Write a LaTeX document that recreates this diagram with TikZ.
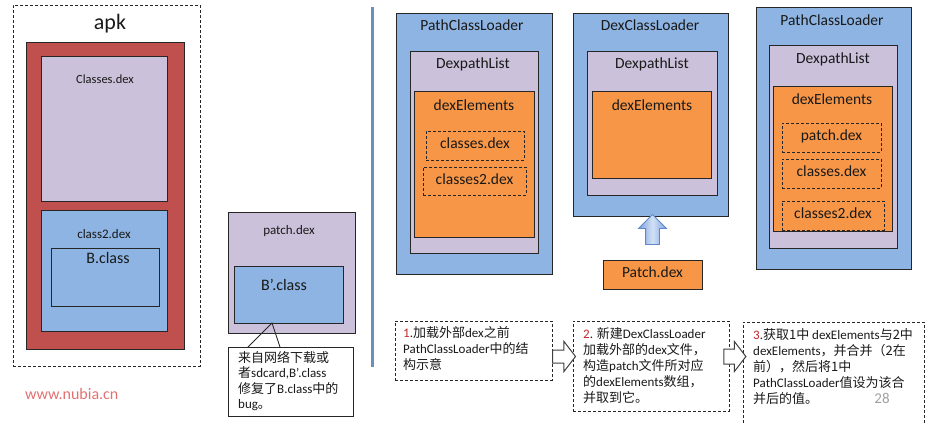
\documentclass[tikz,border=0pt]{standalone}
\usepackage{fontspec}
\setmainfont{Carlito}
\newfontfamily\cjk{Noto Sans CJK SC}
\usetikzlibrary{shapes.arrows}
\definecolor{apkred}{HTML}{C0504D}
\definecolor{lav}{HTML}{CCC1DA}
\definecolor{blu}{HTML}{8DB4E2}
\definecolor{org}{HTML}{F79646}
\definecolor{numred}{HTML}{C0282D}
\definecolor{webred}{HTML}{E37070}
\definecolor{sepblue}{HTML}{6C8EBF}
\definecolor{pagegray}{HTML}{A0A0A0}
\definecolor{arrowedge}{HTML}{5E88C8}
\begin{document}
\begin{tikzpicture}[x=1pt,y=-1pt,
  box/.style={rectangle, draw=black!85, line width=0.8pt, inner sep=0pt},
  lavbox/.style={box, fill=lav},
  blubox/.style={box, fill=blu},
  orgbox/.style={box, fill=org},
  redbox/.style={box, fill=apkred},
  dbox/.style={rectangle, draw=black!85, line width=0.8pt, dash pattern=on 3pt off 2pt, inner sep=0pt},
  lbl/.style={inner sep=0pt, text height=0.6em, text depth=0em, text=black!90, font=\fontsize{15.5}{18}\selectfont},
  note/.style={inner sep=0pt, align=left, anchor=north west, font=\fontsize{13}{16}\selectfont, text=black!90},
  hollow/.style={single arrow, draw=black!75, fill=white, line width=1pt, inner sep=0pt, single arrow tip angle=105},
]
\useasboundingbox (0,0) rectangle (944,423);

% ---------- left: apk ----------
\node[dbox, minimum width=187pt, minimum height=361pt] (apk) at (106.5,185.5) {};
\node[lbl, font=\fontsize{22}{26}\selectfont] (apkL) at (110,26) {apk};
\node[redbox, minimum width=158pt, minimum height=307pt] (red) at (105,195.5) {};
\node[lavbox, minimum width=126pt, minimum height=145pt] (cdex) at (104,128.5) {};
\node[lbl, font=\fontsize{12.5}{15}\selectfont] (cdexL) at (105,80) {Classes.dex};
\node[blubox, minimum width=126pt, minimum height=121pt] (c2dex) at (104,270.5) {};
\node[lbl, font=\fontsize{13}{15}\selectfont] (c2dexL) at (104,235) {class2.dex};
\node[blubox, minimum width=108pt, minimum height=58pt] (bcls) at (105,277) {};
\node[lbl, font=\fontsize{16}{18}\selectfont] (bclsL) at (108,260) {B.class};

\node[lbl, text=webred, font=\fontsize{16}{18}\selectfont, anchor=west] (web) at (25,396) {www.nubia.cn};

% ---------- patch.dex ----------
\node[lavbox, minimum width=127pt, minimum height=121pt] (pdex) at (291.5,272.5) {};
\node[lbl, font=\fontsize{13}{15}\selectfont] (pdexL) at (289,231) {patch.dex};
\node[blubox, minimum width=109pt, minimum height=57pt] (bp) at (288.5,294.5) {};
\node[lbl, font=\fontsize{16}{18}\selectfont] (bpL) at (284,287) {B’.class};

\node[box, fill=white, minimum width=125pt, minimum height=69pt] (call) at (290.5,381.5) {};
\coordinate (callA) at (248,347);
\coordinate (callTip) at (272,323);
\coordinate (callB) at (280,347);
\draw[line width=0.8pt, black!85] (callA) -- (callTip) -- (callB);
\node[note, font=\fontsize{13}{15.5}\selectfont] (callT) at (238,351) {{\cjk 来自网络下载或}\\{\cjk 者}sdcard,B’.class\\{\cjk 修复了}B.class{\cjk 中的}\\bug{\cjk 。}};

% ---------- separator ----------
\coordinate (sepTop) at (372,7);
\coordinate (sepBot) at (372,367);
\draw[sepblue, line width=3pt] (sepTop) -- (sepBot);

% ---------- loader 1 ----------
\node[blubox, minimum width=156pt, minimum height=261pt] (pcl1) at (474,143.5) {};
\node[lbl] (pcl1L) at (472,27) {PathClassLoader};
\node[lavbox, minimum width=128pt, minimum height=202pt] (dpl1) at (474,152) {};
\node[lbl] (dpl1L) at (473,65) {DexpathList};
\node[orgbox, minimum width=120pt, minimum height=146pt] (de1) at (474,164) {};
\node[lbl] (de1L) at (474,107) {dexElements};
\node[dbox, minimum width=98pt, minimum height=29pt] (l1a) at (475,145.5) {};
\node[lbl] (l1aL) at (475,145.5) {classes.dex};
\node[dbox, minimum width=103pt, minimum height=28pt] (l1b) at (474.5,181) {};
\node[lbl] (l1bL) at (474.5,181) {classes2.dex};

% ---------- loader 2 ----------
\node[blubox, minimum width=155pt, minimum height=203pt] (dcl) at (650.5,114.5) {};
\node[lbl] (dclL) at (650,27) {DexClassLoader};
\node[lavbox, minimum width=130pt, minimum height=144pt] (dpl2) at (652,123) {};
\node[lbl] (dpl2L) at (652,65) {DexpathList};
\node[orgbox, minimum width=119pt, minimum height=87pt] (de2) at (651.5,134.5) {};
\node[lbl] (de2L) at (652,107) {dexElements};
\node[orgbox, minimum width=99pt, minimum height=29pt] (patch) at (652.5,274.5) {};
\node[lbl] (patchL) at (652.5,274.5) {Patch.dex};
\node[single arrow, shape border rotate=90, draw=arrowedge, line width=0.8pt,
      left color=blu!90!blue, right color=blu!90!blue, middle color=blu!40!white,
      minimum height=30pt, minimum width=27pt, inner sep=6.5pt,
      single arrow head extend=7pt] (up) at (652.5,233) {};

% ---------- loader 3 ----------
\node[blubox, minimum width=155pt, minimum height=262pt] (pcl3) at (833.5,138) {};
\node[lbl] (pcl3L) at (832,22) {PathClassLoader};
\node[lavbox, minimum width=128pt, minimum height=203pt] (dpl3) at (833,146.5) {};
\node[lbl] (dpl3L) at (833,60) {DexpathList};
\node[orgbox, minimum width=119pt, minimum height=145pt] (de3) at (832.5,158.5) {};
\node[lbl] (de3L) at (832,101) {dexElements};
\node[dbox, minimum width=99pt, minimum height=29pt] (l3a) at (831.5,137.5) {};
\node[lbl] (l3aL) at (831.5,137.5) {patch.dex};
\node[dbox, minimum width=99pt, minimum height=29pt] (l3b) at (831.5,173.5) {};
\node[lbl] (l3bL) at (831.5,173.5) {classes.dex};
\node[dbox, minimum width=102pt, minimum height=29pt] (l3c) at (833,215.5) {};
\node[lbl] (l3cL) at (833,215.5) {classes2.dex};

% ---------- bottom steps ----------
\node[dbox, minimum width=157pt, minimum height=59pt] (s1) at (473.5,350.5) {};
\node[note] (s1T) at (403,326) {{\color{numred}1}.{\cjk 加载外部}dex{\cjk 之前}\\PathClassLoader{\cjk 中的结}\\{\cjk 构示意}};
\node[dbox, minimum width=156pt, minimum height=90pt] (s2) at (651,366) {};
\node[note] (s2T) at (583,327) {{\color{numred}2}. {\cjk 新建}DexClassLoader\\{\cjk 加载外部的}dex{\cjk 文件，}\\{\cjk 构造}patch{\cjk 文件所对应}\\{\cjk 的}dexElements{\cjk 数组，}\\{\cjk 并取到它。}};
\coordinate (s3bl) at (743,423);
\coordinate (s3tl) at (743,322);
\coordinate (s3tr) at (924,322);
\coordinate (s3br) at (924,423);
\draw[line width=0.8pt, black!85, dash pattern=on 3pt off 2pt] (s3bl) -- (s3tl) -- (s3tr) -- (s3br);
\node[note] (s3T) at (753,328) {{\color{numred}3}.{\cjk 获取1中} dexElements{\cjk 与2中}\\dexElements{\cjk ，并合并（2在}\\{\cjk 前），然后将1中}\\PathClassLoader{\cjk 值设为该合}\\{\cjk 并后的值。}};
\node[lbl, text=pagegray, font=\fontsize{15}{18}\selectfont] (page) at (882,400) {28};

\node[hollow, minimum height=23pt, minimum width=29pt, inner ysep=6pt, single arrow head extend=8.5pt] (ar1) at (561.5,356.5) {};
\node[hollow, minimum height=22pt, minimum width=29pt, inner ysep=7pt, single arrow head extend=7.5pt] (ar2) at (732,356.5) {};
\end{tikzpicture}
\end{document}
